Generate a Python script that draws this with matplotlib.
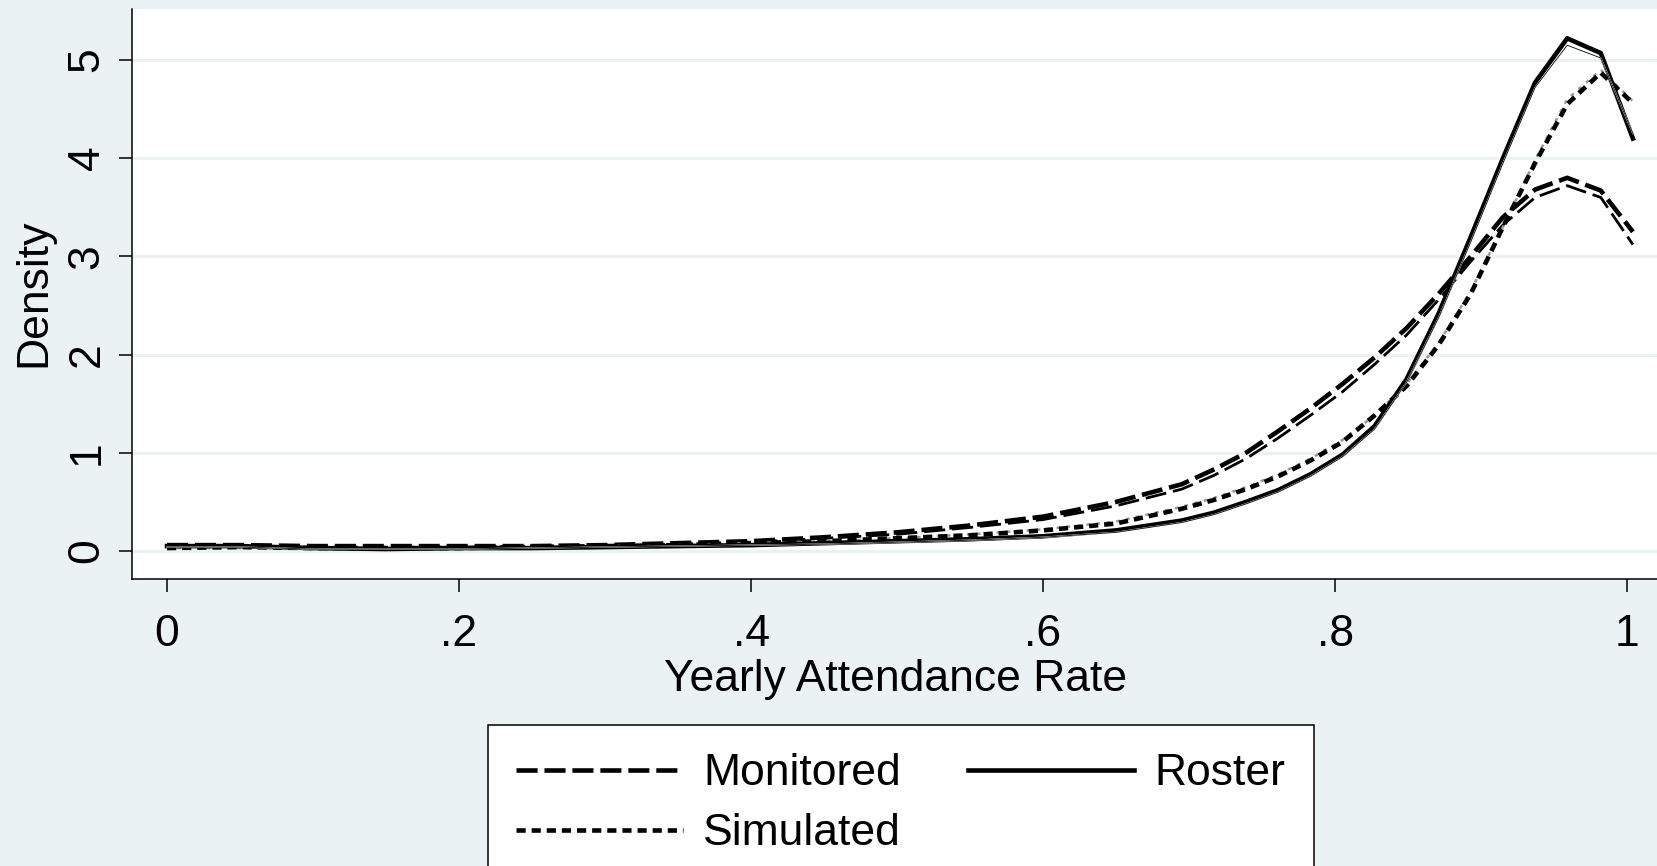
import numpy as np
import matplotlib
matplotlib.use("Agg")
from matplotlib import pyplot as plt
from matplotlib.lines import Line2D

plt.rcParams['font.family'] = ['Liberation Sans', 'DejaVu Sans']

# evaluation points of the densities
rate = [0.0, 0.05, 0.1, 0.15, 0.2, 0.25, 0.3, 0.35, 0.4, 0.45, 0.5, 0.55, 0.6, 0.65,
        0.695, 0.717, 0.739, 0.761, 0.783, 0.805, 0.827, 0.849, 0.871, 0.893, 0.915,
        0.937, 0.959, 0.982, 1.004]

monitored_a = [0.06, 0.06, 0.05, 0.05, 0.05, 0.05, 0.06, 0.08, 0.10, 0.14, 0.19, 0.26, 0.35, 0.50,
               0.68, 0.83, 1.00, 1.22, 1.45, 1.70, 1.97, 2.27, 2.62, 3.00, 3.40,
               3.68, 3.80, 3.67, 3.25]
monitored_b = [0.05, 0.05, 0.04, 0.04, 0.04, 0.05, 0.05, 0.07, 0.09, 0.13, 0.17, 0.24, 0.32, 0.46,
               0.63, 0.77, 0.94, 1.15, 1.38, 1.62, 1.90, 2.20, 2.56, 2.95, 3.32,
               3.60, 3.72, 3.60, 3.12]
roster_a = [0.05, 0.05, 0.03, 0.02, 0.03, 0.03, 0.04, 0.05, 0.06, 0.08, 0.10, 0.12, 0.15, 0.21,
            0.31, 0.39, 0.50, 0.62, 0.78, 0.98, 1.27, 1.75, 2.42, 3.20, 4.00,
            4.77, 5.22, 5.07, 4.20]
roster_b = [0.04, 0.04, 0.02, 0.02, 0.02, 0.03, 0.04, 0.05, 0.06, 0.07, 0.09, 0.11, 0.14, 0.19,
            0.29, 0.37, 0.48, 0.60, 0.76, 0.96, 1.24, 1.72, 2.38, 3.15, 3.95,
            4.72, 5.15, 5.02, 4.25]
simulated_a = [0.03, 0.04, 0.03, 0.03, 0.03, 0.04, 0.05, 0.06, 0.08, 0.10, 0.13, 0.16, 0.21, 0.28,
               0.43, 0.52, 0.63, 0.76, 0.92, 1.11, 1.38, 1.68, 2.10, 2.62, 3.30,
               3.95, 4.55, 4.87, 4.56]
simulated_b = [0.03, 0.03, 0.03, 0.03, 0.03, 0.04, 0.05, 0.06, 0.08, 0.10, 0.13, 0.17, 0.22, 0.30,
               0.45, 0.54, 0.65, 0.78, 0.94, 1.13, 1.38, 1.70, 2.12, 2.65, 3.30,
               3.98, 4.60, 4.90, 4.58]

xticks = [0, 0.2, 0.4, 0.6, 0.8, 1.0]
xticklabels = ["0", ".2", ".4", ".6", ".8", "1"]
yticks = [0, 1, 2, 3, 4, 5]

bg = '#EAF2F3'
W, H = 1657, 866
fig = plt.figure(figsize=(W / 100, H / 100), dpi=100, facecolor=bg)
ax = fig.add_axes([132 / W, 1 - 579 / H, 1 - 132 / W, (579 - 8.5) / H])
ax.set_facecolor('white')

lw = 3.3
long_dash = (4.6, 1.5)
short_dash = (2.0, 1.3)
ax.plot(rate, monitored_a, color='black', lw=lw, dashes=long_dash)
ax.plot(rate, monitored_b, color='black', lw=2.0, dashes=(7.6, 2.5))
ax.plot(rate, simulated_b, color='#999999', lw=1.8, dashes=(1.5, 2.5))
ax.plot(rate, simulated_a, color='black', lw=lw, dashes=short_dash)
ax.plot(rate, roster_a, color='black', lw=lw)
ax.plot(rate, roster_b, color='white', lw=1.0)
ax.plot(rate, roster_b, color='black', lw=0.6)

ax.set_xlim(-0.024, 1.0205)
ax.set_ylim(-0.285, 5.524)
ax.set_xticks(xticks)
ax.set_xticklabels(xticklabels)
ax.set_yticks(yticks)
ax.set_yticklabels([str(v) for v in yticks], rotation=90, va='center')
ax.tick_params(direction='out', length=9.5, width=1.1, labelsize=32, color='black')
ax.tick_params(axis='x', pad=16)
ax.tick_params(axis='y', pad=8)
ax.grid(axis='y', color=bg, lw=2.2)
ax.set_axisbelow(True)
for side in ['top', 'right']:
    ax.spines[side].set_visible(False)
for side in ['left', 'bottom']:
    ax.spines[side].set_linewidth(1.1)

fig.text(896 / W, 1 - 680 / H, 'Yearly Attendance Rate', fontsize=32, ha='center', va='center')
fig.text(34 / W, 1 - 293 / H, 'Density', fontsize=32, ha='center', va='center', rotation=90)

handles = [Line2D([], [], color='black', lw=lw, dashes=long_dash),
           Line2D([], [], color='black', lw=lw, dashes=short_dash),
           Line2D([], [], color='black', lw=lw)]
leg = fig.legend(handles, ['Monitored', 'Simulated', 'Roster'], ncol=2,
                 loc='upper left', bbox_to_anchor=(488 / W, 1 - 725 / H),
                 borderaxespad=0, fontsize=32, frameon=True, fancybox=False,
                 handlelength=3.75, handletextpad=0.45, columnspacing=1.5,
                 borderpad=0.64, labelspacing=0.42)
leg.get_frame().set_edgecolor('black')
leg.get_frame().set_linewidth(1.1)
leg.get_frame().set_facecolor('white')
leg.get_frame().set_alpha(1)

fig.savefig('out.png', dpi=100, facecolor=bg)
